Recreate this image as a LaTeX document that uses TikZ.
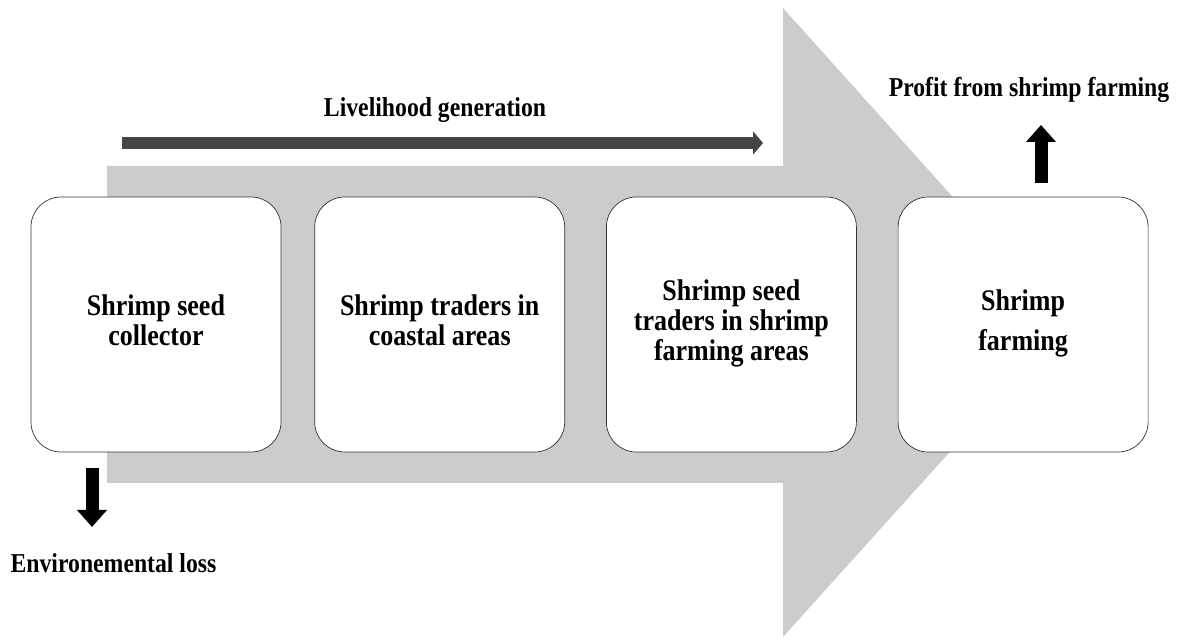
\documentclass[tikz,border=0pt]{standalone}
\usepackage{fontspec}
\setmainfont{Liberation Serif}
\usepackage{xcolor}
\usepackage{graphicx}
\usepackage{tikz}
\usetikzlibrary{positioning,calc,arrows.meta}

\definecolor{flowgray}{HTML}{CCCCCC}
\definecolor{lifegray}{HTML}{454545}

% text in the picture is a little taller than the font
\newcommand{\tallText}[1]{\scalebox{1}[1.15]{\begin{tabular}{@{}c@{}}#1\end{tabular}}}

\tikzset{
    stage/.style={draw=black!80, fill=white, rounded corners=0.6cm, minimum width=5cm,
        minimum height=5.1cm, align=center, font=\bfseries\fontsize{14.8}{14.4}\selectfont},
    caption/.style={inner sep=0pt, font=\bfseries\fontsize{13.5}{15}\selectfont},
    blockarrow/.style={line width=0.26cm, -{Triangle[width=0.58cm,length=0.34cm]}}
}

\begin{document}
\begin{tikzpicture}
    \useasboundingbox (0,0) rectangle (23.54,12.78);

    % big flow arrow in the back
    \fill [flowgray] (2.14,9.46) -- (15.66,9.46) -- (15.66,12.62) -- (21.32,6.32)
        -- (15.66,0.04) -- (15.66,3.12) -- (2.14,3.12) -- cycle;

    % the four stages
    \node [stage] (collector) at (3.12,6.29) {\tallText{Shrimp seed\\collector}};
    \node [stage, right=0.66cm of collector] (coastal) {\tallText{Shrimp traders in\\coastal areas}};
    \node [stage, right=0.82cm of coastal] (seedtraders) {\tallText{Shrimp seed\\traders in shrimp\\farming areas}};
    \node [stage, right=0.82cm of seedtraders] (farming) {\tallText{Shrimp\\[5pt]farming}};

    % livelihood arrow
    \coordinate (lifeStart) at (2.44,9.92);
    \coordinate (lifeEnd) at (15.26,9.92);
    \draw [lifegray, line width=0.24cm, -{Triangle[width=0.46cm,length=0.2cm]}] (lifeStart) -- (lifeEnd);
    \node [caption] (life) at (8.7,10.58) {\tallText{Livelihood generation}};

    % loss and profit
    \coordinate (lossStart) at (1.84,3.42);
    \coordinate (lossEnd) at (1.84,2.24);
    \draw [blockarrow] (lossStart) -- (lossEnd);
    \node [caption] (loss) at (2.27,1.46) {\tallText{Environemental loss}};

    \coordinate (profitStart) at (20.82,9.12);
    \coordinate (profitEnd) at (20.82,10.28);
    \draw [blockarrow] (profitStart) -- (profitEnd);
    \node [caption] (profit) at (20.58,10.98) {\tallText{Profit from shrimp farming}};
\end{tikzpicture}
\end{document}
